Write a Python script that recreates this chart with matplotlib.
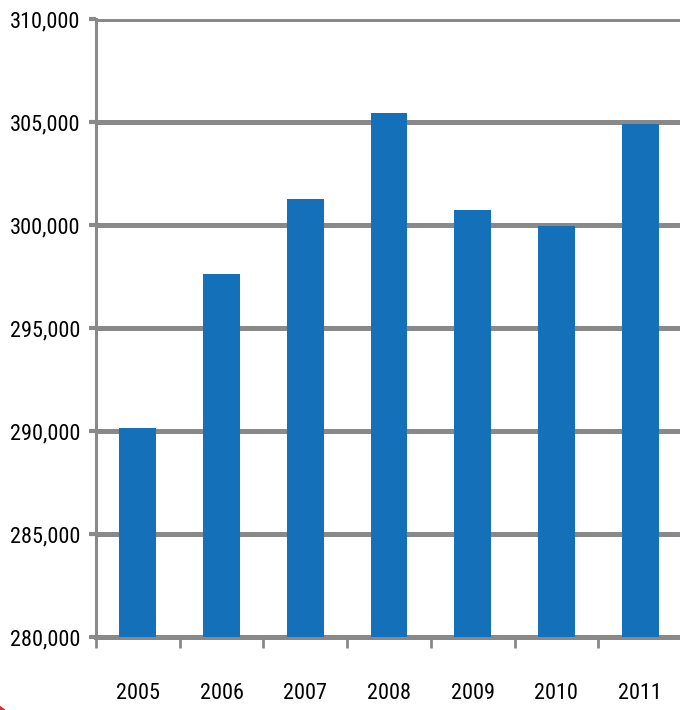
import matplotlib.pyplot as plt
from matplotlib import font_manager
from matplotlib.ticker import FuncFormatter, FixedLocator
from matplotlib.patches import Circle

years = ["2005", "2006", "2007", "2008", "2009", "2010", "2011"]
values = [290130, 297600, 301240, 305420, 300730, 299950, 304900]
y_ticks = [280000, 285000, 290000, 295000, 300000, 305000, 310000]

bar_color = "#1470b8"
grid_color = "#898989"

# narrow font if one is there, else plain Liberation Sans a bit smaller
installed = {f.name for f in font_manager.fontManager.ttflist}
font_size = 14
font_name = "Liberation Sans"
for name, size in [("Liberation Sans Narrow", 17), ("DejaVu Sans Condensed", 13),
                   ("Roboto Condensed", 16)]:
    if name in installed:
        font_name, font_size = name, size
        break
plt.rcParams['font.family'] = [font_name, 'DejaVu Sans']

fig = plt.figure(figsize=(6.8, 7.1), dpi=100)
ax = fig.add_axes([96 / 680, 73 / 710, 586 / 680, 618 / 710])

x = list(range(len(years)))
ax.bar(x, values, width=0.44, color=bar_color, zorder=3)

ax.set_xlim(-0.5, len(years) - 0.5)
ax.set_ylim(280000, 310000)
ax.set_yticks(y_ticks)
ax.yaxis.set_major_formatter(FuncFormatter(lambda v, p: f"{int(v):,}"))
ax.yaxis.grid(True, color=grid_color, linewidth=3.6, zorder=1)
ax.set_axisbelow(True)

ax.set_xticks(x)
ax.set_xticklabels(years)
ax.xaxis.set_minor_locator(FixedLocator([i - 0.5 for i in range(len(years) + 1)]))
ax.tick_params(axis='x', which='major', length=0, pad=33, labelsize=font_size)
ax.tick_params(axis='x', which='minor', length=8, width=2, color=grid_color, direction='out')
ax.tick_params(axis='y', length=5, width=3, color=grid_color, pad=6, labelsize=font_size)

for side in ['top', 'right']:
    ax.spines[side].set_visible(False)
ax.spines['left'].set_color(grid_color)
ax.spines['left'].set_linewidth(2.2)
ax.spines['bottom'].set_color(grid_color)
ax.spines['bottom'].set_linewidth(3.6)

# red corner mark at bottom-left
fig.patches.append(Circle((-0.02, -0.03), 0.04, transform=fig.transFigure,
                          color="#e8262b", zorder=0))

fig.savefig("out.png", dpi=100)
